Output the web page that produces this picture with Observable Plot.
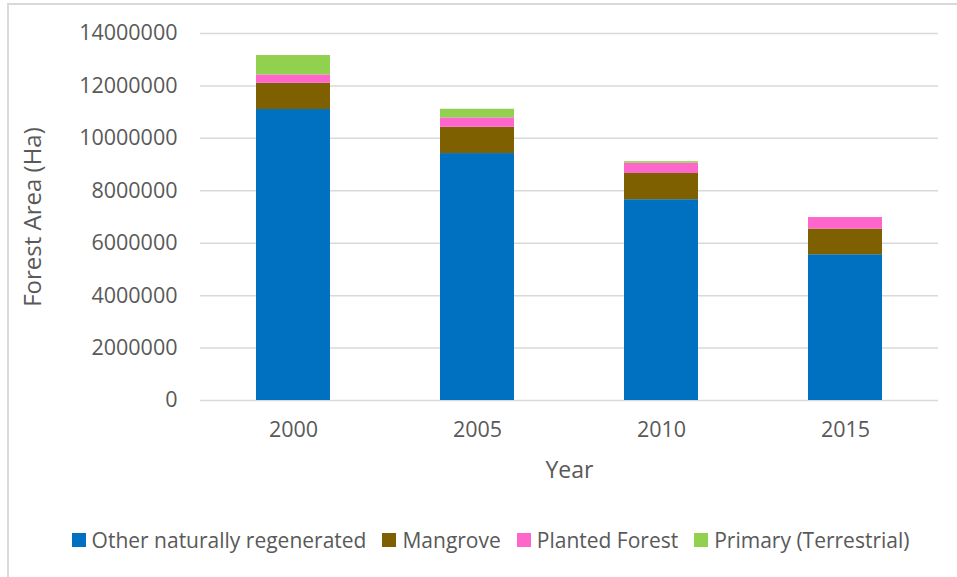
<!DOCTYPE html>
<html>
<head>
<meta charset="utf-8">
<script src="https://cdn.jsdelivr.net/npm/d3@7"></script>
<script src="https://cdn.jsdelivr.net/npm/@observablehq/plot@0.6"></script>
<style>
  html, body { margin: 0; padding: 0; background: #fff; overflow: hidden; }
  body { width: 957px; height: 577px; position: relative; font-family: "Open Sans", sans-serif; }
  #frame { position: absolute; left: 7px; top: 3px; width: 970px; height: 600px; border: 2px solid #d9d9d9; box-sizing: border-box; }
  #chart { position: absolute; left: 0; top: 0; }
  #legend { position: absolute; top: 526px; left: 12px; width: 957px; display: flex; justify-content: center; font-size: 21px; color: #595959; }
  .item { display: flex; align-items: center; margin: 0 8px; }
  .sw { width: 14px; height: 14px; margin-right: 6px; }
</style>
</head>
<body>
<div id="frame"></div>
<div id="chart"></div>
<div id="legend"></div>
<script>
// Forest area by type, in hectares
const years = ["2000", "2005", "2010", "2015"];
const seriesNames = ["Other naturally regenerated", "Mangrove", "Planted Forest", "Primary (Terrestrial)"];
const otherNaturallyRegenerated = [11100000, 9420000, 7660000, 5560000];
const mangrove = [1000000, 1000000, 1000000, 980000];
const plantedForest = [320000, 360000, 390000, 440000];
const primaryTerrestrial = [740000, 330000, 60000, 0];
const yTicks = [0, 2000000, 4000000, 6000000, 8000000, 10000000, 12000000, 14000000];
const colors = ["#0070C0", "#7F6000", "#FF66CC", "#92D050"];

const seriesValues = [otherNaturallyRegenerated, mangrove, plantedForest, primaryTerrestrial];
const rows = [];
seriesNames.forEach((name, i) => {
  years.forEach((yr, j) => rows.push({year: yr, type: name, area: seriesValues[i][j]}));
});

const textColor = "#595959";

const chart = Plot.plot({
  width: 957,
  height: 577,
  marginLeft: 200,
  marginRight: 19,
  marginTop: 33,
  marginBottom: 177,
  style: {fontFamily: "Open Sans, sans-serif", fontSize: "21px", color: textColor, background: "transparent"},
  x: {domain: years, paddingInner: 0.6, paddingOuter: 0.3, label: null},
  y: {domain: [0, 14000000], label: null},
  color: {domain: seriesNames, range: colors},
  marks: [
    Plot.ruleY(yTicks, {stroke: "#d9d9d9", strokeWidth: 1.5}),
    Plot.barY(rows, Plot.stackY({order: seriesNames}, {x: "year", y: "area", fill: "type"})),
    Plot.axisY({ticks: yTicks, tickSize: 0, tickPadding: 23, tickFormat: d => String(d), label: null, fill: textColor, fontSize: 21.5}),
    Plot.axisX({tickSize: 0, tickPadding: 21, label: null, fill: textColor, fontSize: 21.5}),
    Plot.text(["Forest Area (Ha)"], {frameAnchor: "left", textAnchor: "middle", lineAnchor: "middle", dx: -167, rotate: -90, fill: textColor, fontSize: 24}),
    Plot.text(["Year"], {frameAnchor: "bottom", textAnchor: "middle", lineAnchor: "middle", dy: 70, fill: textColor, fontSize: 23})
  ]
});
document.getElementById("chart").appendChild(chart);

const legend = document.getElementById("legend");
seriesNames.forEach((name, i) => {
  const item = document.createElement("div");
  item.className = "item";
  const sw = document.createElement("div");
  sw.className = "sw";
  sw.style.background = colors[i];
  const label = document.createElement("span");
  label.textContent = name;
  item.appendChild(sw);
  item.appendChild(label);
  legend.appendChild(item);
});
</script>
</body>
</html>
